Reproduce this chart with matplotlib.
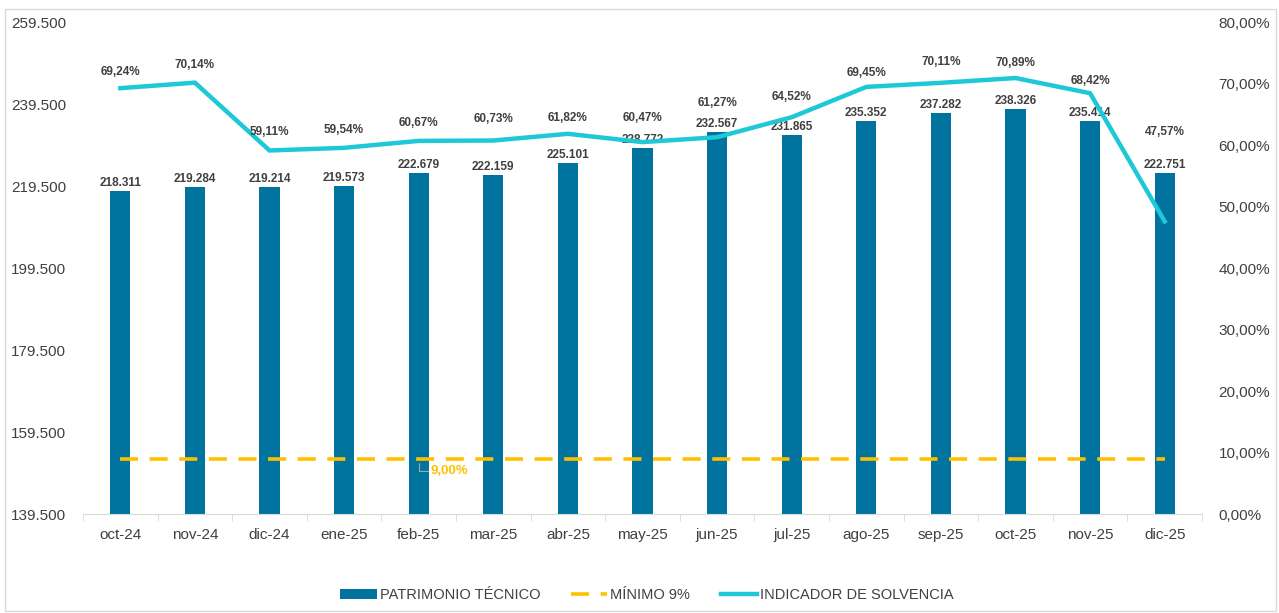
import matplotlib
matplotlib.use("Agg")
import matplotlib.pyplot as plt
from matplotlib.lines import Line2D
from matplotlib.patches import Patch, Rectangle
import numpy as np

plt.rcParams["font.family"] = ["Liberation Sans", "DejaVu Sans"]

# data
months = ["oct-24", "nov-24", "dic-24", "ene-25", "feb-25", "mar-25", "abr-25", "may-25",
          "jun-25", "jul-25", "ago-25", "sep-25", "oct-25", "nov-25", "dic-25"]
patrimonio = [218311, 219284, 219214, 219573, 222679, 222159, 225101, 228772,
              232567, 231865, 235352, 237282, 238326, 235414, 222751]
solvencia = [69.24, 70.14, 59.11, 59.54, 60.67, 60.73, 61.82, 60.47,
             61.27, 64.52, 69.45, 70.11, 70.89, 68.42, 47.57]
minimo = 9.0

left_ticks = [139500, 159500, 179500, 199500, 219500, 239500, 259500]
right_ticks = [0, 10, 20, 30, 40, 50, 60, 70, 80]

BAR = "#00739e"
CYAN = "#1ec8d6"
GOLD = "#ffc000"
TXT = "#404040"


def miles(v):
    return f"{v:,.0f}".replace(",", ".")


def pct(v):
    return f"{v:.2f}%".replace(".", ",")


fig = plt.figure(figsize=(12.79, 6.13), dpi=100)
ax = fig.add_axes([0.0649, 0.1615, 0.8749, 0.8026])
ax2 = ax.twinx()

x = np.arange(len(months))
ax.bar(x, patrimonio, width=0.27, color=BAR, zorder=2)
ax.set_ylim(left_ticks[0], left_ticks[-1])
ax.set_xlim(-0.5, len(months) - 0.5)
ax.set_yticks(left_ticks)
ax.set_yticklabels([miles(v) for v in left_ticks])

for xi, v in zip(x, patrimonio):
    ax.annotate(miles(v), (xi, v), xytext=(0, 2), textcoords="offset pixels",
                ha="center", va="bottom", fontsize=8.5, fontweight="bold", color=TXT, zorder=5)

ax2.plot(x, [minimo] * len(x), color=GOLD, lw=2.6, ls=(0, (5, 3.2)), zorder=3)
ax2.plot(x, solvencia, color=CYAN, lw=3.2, zorder=4, solid_joinstyle="miter")
ax2.set_ylim(right_ticks[0], right_ticks[-1])
ax2.set_yticks(right_ticks)
ax2.set_yticklabels([pct(v) for v in right_ticks])

# how far (pixels) each solvency label sits above its point, as placed in the original
lab_dy = [16, 18, 18, 18, 18, 22, 16, 24, 34, 20, 14, 21, 15, 12, 89]
for xi, v, dy in zip(x, solvencia, lab_dy):
    ax2.annotate(pct(v), (xi, v), xytext=(0, dy), textcoords="offset pixels",
                 ha="center", va="center", fontsize=8.5, fontweight="bold", color=TXT, zorder=5)

ax2.annotate(pct(minimo), (4, minimo), xytext=(12, -12), textcoords="offset pixels",
             ha="left", va="center", fontsize=9.5, fontweight="bold", color=GOLD,
             arrowprops=dict(arrowstyle="-", color="#a6a6a6", lw=0.8,
                             connectionstyle="angle,angleA=0,angleB=90,rad=0",
                             shrinkA=0, shrinkB=3))

for a in (ax, ax2):
    for s in a.spines.values():
        s.set_visible(False)
    a.tick_params(axis="y", length=0, labelsize=11, labelcolor=TXT, pad=12)

ax.spines["bottom"].set_visible(True)
ax.spines["bottom"].set_color("#d9d9d9")
ax.set_xticks(x)
ax.set_xticklabels(months)
ax.tick_params(axis="x", which="major", length=0, pad=10, labelsize=11, labelcolor=TXT)
ax.set_xticks(np.arange(-0.5, len(months)), minor=True)
ax.tick_params(axis="x", which="minor", length=5, color="#d9d9d9")

handles = [Patch(facecolor=BAR, edgecolor="none"),
           Line2D([], [], color=GOLD, lw=2.6, ls=(0, (5, 3.2))),
           Line2D([], [], color=CYAN, lw=3.2)]
labels = ["PATRIMONIO TÉCNICO", "MÍNIMO 9%", "INDICADOR DE SOLVENCIA"]
fig.legend(handles, labels, loc="center", bbox_to_anchor=(0.506, 0.029), ncol=3,
           frameon=False, fontsize=10.5, labelcolor=TXT, handlelength=2.5,
           handletextpad=0.2, columnspacing=2.1)

fig.patches.append(Rectangle((0.004, 0.003), 0.994, 0.982, transform=fig.transFigure,
                             fill=False, edgecolor="#d9d9d9", lw=1))

fig.savefig("out.png", dpi=100)
